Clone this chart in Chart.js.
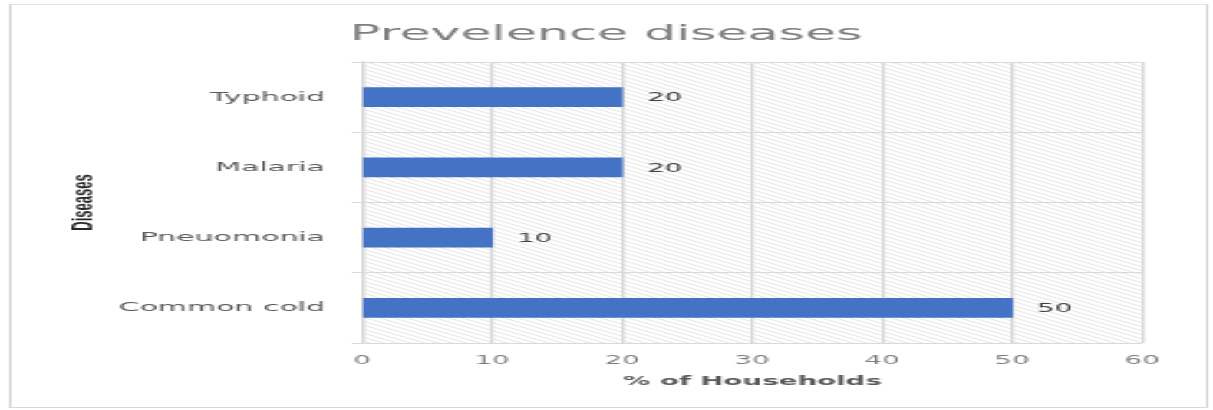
<!DOCTYPE html>
<html>
<head>
<meta charset="utf-8">
<script src="https://cdn.jsdelivr.net/npm/chart.js@4/dist/chart.umd.min.js"></script>
<style>
  html,body{margin:0;padding:0;background:#fff;overflow:hidden;}
  /* chart is laid out narrow and stretched sideways, like the original picture */
  #wrap{position:absolute;left:0;top:0;width:527px;height:410px;transform:scaleX(2.3017);transform-origin:0 0;}
  #frame{position:absolute;left:3.5px;top:4px;width:519px;height:402px;border:1px solid #d9d9d9;border-top-color:#e4e4e4;}
  #box{position:absolute;left:0;top:0;width:527px;height:410px;}
</style>
</head>
<body>
<div id="wrap">
  <div id="frame"></div>
  <div id="box"><canvas id="chart"></canvas></div>
</div>
<script>
const diseases = ['Typhoid', 'Malaria', 'Pneuomonia', 'Common cold'];
const households = [20, 20, 10, 50];
const xTicks = [0, 10, 20, 30, 40, 50, 60];

const gridGrey = '#d9d9d9';

function hatch(){
  const c = document.createElement('canvas');
  c.width = 6; c.height = 4;
  const g = c.getContext('2d');
  g.fillStyle = '#fff'; g.fillRect(0,0,6,4);
  g.strokeStyle = '#dedede'; g.lineWidth = 0.8;
  [-4,0,4].forEach(k=>{ g.beginPath(); g.moveTo(-6,-4+k); g.lineTo(12,8+k); g.stroke(); });
  return c;
}

// hatched plot background
const plotBg = {
  id:'plotBg',
  beforeDraw(chart){
    const {ctx, chartArea:a} = chart;
    ctx.save();
    ctx.fillStyle = ctx.createPattern(hatch(), 'repeat');
    ctx.fillRect(a.left, a.top, a.right-a.left, a.bottom-a.top);
    ctx.restore();
  }
};

// value labels just past the bar ends
const barLabels = {
  id:'barLabels',
  afterDatasetsDraw(chart){
    const ctx = chart.ctx;
    const meta = chart.getDatasetMeta(0);
    ctx.save();
    ctx.font = '12px "DejaVu Sans"';
    ctx.fillStyle = '#404040';
    ctx.textAlign = 'left';
    ctx.textBaseline = 'middle';
    meta.data.forEach((bar,i)=>{
      ctx.fillText(String(households[i]), bar.x + 10.9, bar.y + 1);
    });
    ctx.restore();
  }
};

new Chart(document.getElementById('chart'), {
  type:'bar',
  data:{
    labels: diseases,
    datasets:[{ label:'% of Households', data: households, backgroundColor:'#4472c4', borderWidth:0, barThickness:19 }]
  },
  options:{
    indexAxis:'y',
    responsive:true,
    maintainAspectRatio:false,
    animation:false,
    layout:{ padding:{ left:30.6, right:30.8, top:5, bottom:10 } },
    plugins:{
      legend:{ display:false },
      tooltip:{ enabled:false },
      title:{
        display:true,
        text:'Prevelence diseases',
        color:'#7f7f7f',
        font:{ family:'"DejaVu Sans"', size:22, weight:'normal', lineHeight:1.2 },
        padding:{ top:15.8, bottom:14.8 }
      }
    },
    scales:{
      x:{
        min:0, max:60,
        afterBuildTicks(s){ s.ticks = xTicks.map(v=>({value:v})); },
        afterFit(s){ s.height = 57; },
        grid:{ color:gridGrey, lineWidth:1.35, drawTicks:false },
        border:{ display:false },
        ticks:{ color:'#7f7f7f', padding:10.5, font:{ family:'"DejaVu Sans"', size:12 } },
        title:{
          display:true, text:'% of Households', color:'#595959',
          font:{ family:'"DejaVu Sans"', size:12, weight:'bold', lineHeight:1.2 },
          padding:{ top:0, bottom:10.8 }
        }
      },
      y:{
        afterFit(s){ s.width = 126.7; },
        grid:{ color:gridGrey, lineWidth:1, offset:true, tickLength:4.4 },
        border:{ color:gridGrey, width:1.35 },
        ticks:{ color:'#595959', padding:11.7, font:{ family:'"DejaVu Sans"', size:13 } },
        title:{
          display:true, text:'Diseases', color:'#262626',
          font:{ family:'"Liberation Sans Narrow", "Liberation Sans", sans-serif', size:13, weight:'bold', lineHeight:1.2 },
          padding:{ top:-1.9, bottom:0 }
        }
      }
    }
  },
  plugins:[plotBg, barLabels]
});
</script>
</body>
</html>
